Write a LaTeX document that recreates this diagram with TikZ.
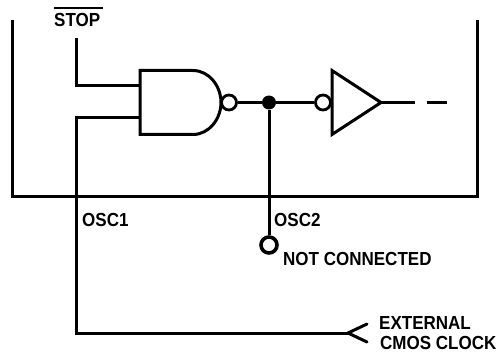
\documentclass[tikz,border=0pt]{standalone}
\usepackage{fontspec}
\setmainfont[FakeStretch=0.9]{Liberation Sans}
\begin{document}
\begin{tikzpicture}[x=1pt,y=-1pt,
  wire/.style={line width=3pt,black,line join=miter},
  gateline/.style={line width=3pt,black,line join=miter,fill=white},
  bubble/.style={circle,draw=black,line width=2.8pt,fill=white,minimum size=15pt,inner sep=0pt},
  junction/.style={circle,fill=black,minimum size=14pt,inner sep=0pt},
  open/.style={circle,draw=black,line width=3.6pt,fill=white,minimum size=16pt,inner sep=0pt},
  lab/.style={inner sep=0pt,font=\fontsize{18.9}{20}\selectfont\bfseries,anchor=west,text=black}]
\useasboundingbox (0,0) rectangle (496,353);
% package outline
\coordinate (tl) at (12,20);
\coordinate (bl) at (12,196);
\coordinate (br) at (477,196);
\coordinate (tr) at (477,20);
\draw[wire] (tl) -- (bl) -- (br) -- (tr);
% coordinates
\coordinate (stopend) at (76,38);
\coordinate (stopc) at (76,86);
\coordinate (in1) at (140,86);
\coordinate (in2) at (140,118);
\coordinate (oscc) at (76,118);
\coordinate (clkc) at (76,333);
\coordinate (tip) at (348,333);
\coordinate (tipa) at (367,324);
\coordinate (tipb) at (367,342);
\coordinate (bout) at (381,102.5);
\coordinate (d1) at (415,102.5);
\coordinate (d2a) at (427,102.5);
\coordinate (d2b) at (447,102.5);
% wires
\draw[wire] (stopend) -- (stopc) -- (in1);
\draw[wire] (in2) -- (oscc) -- (clkc) -- (tip);
\draw[wire,line cap=round] (tipa) -- (tip) -- (tipb);
% NAND
\draw[gateline] (140,70.5) -- (193,70.5) .. controls (209,70.5) and (221,86) .. (221,102.5)
  .. controls (221,119) and (209,134.5) .. (193,134.5) -- (140,134.5) -- cycle;
\node[bubble] (b1) at (229,102.5) {};
\node[junction] (j) at (269,102.5) {};
\node[bubble] (b2) at (323,102.5) {};
\node[open] (nc) at (269,245) {};
\draw[wire] (b1) -- (j);
\draw[wire] (j) -- (b2);
\draw[wire] (j) -- (nc);
% buffer
\draw[gateline] (332,70.5) -- (381,102.5) -- (332,134.5) -- cycle;
\draw[wire] (bout) -- (d1);
\draw[wire] (d2a) -- (d2b);
% labels
\node[lab] (stop) at (54,20) {STOP};
\coordinate (oa) at (54,8);
\coordinate (ob) at (103,8);
\draw[line width=1.6pt,black] (oa) -- (ob);
\node[lab] (osc1) at (82,220) {OSC1};
\node[lab] (osc2) at (274,220) {OSC2};
\node[lab] (ncl) at (283,259) {NOT CONNECTED};
\node[lab] (ext) at (379,323) {EXTERNAL};
\node[lab] (cmos) at (380,343) {CMOS CLOCK};
\end{tikzpicture}
\end{document}
